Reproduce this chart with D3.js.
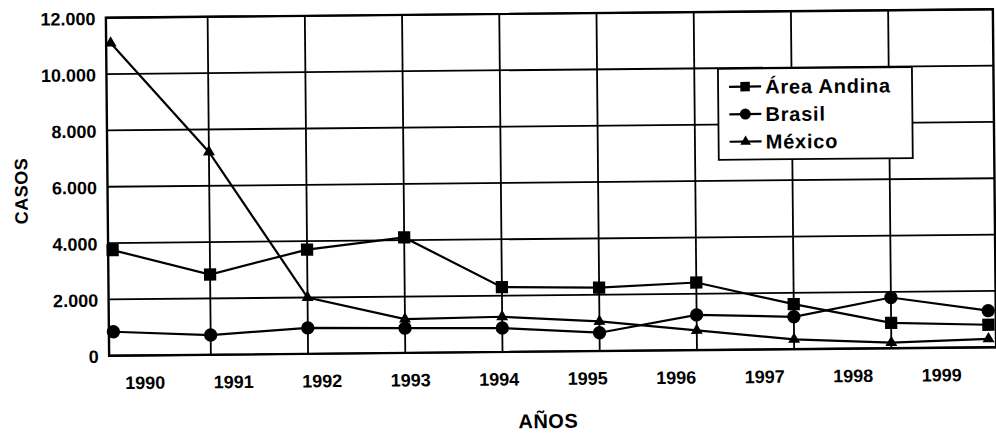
<!DOCTYPE html>
<html>
<head>
<meta charset="utf-8">
<script src="https://cdn.jsdelivr.net/npm/d3@7"></script>
<style>
  body { margin: 0; background: #fff; }
  svg { display: block; }
  text { font-family: "Liberation Sans", Arial, sans-serif; font-weight: bold; fill: #000; }
</style>
</head>
<body>
<div id="chart"></div>
<script>
// chart data
const years = [1990, 1991, 1992, 1993, 1994, 1995, 1996, 1997, 1998, 1999]
const andina = [3750, 2850, 3700, 4100, 2300, 2250, 2400, 1600, 900, 800]
const brasil = [850, 700, 920, 880, 850, 650, 1250, 1150, 1800, 1300]
const mexico = [11100, 7200, 2000, 1200, 1250, 1050, 700, 350, 200, 300]
const seriesNames = ["Área Andina", "Brasil", "México"]
const yTicks = [0, 2000, 4000, 6000, 8000, 10000, 12000]

const width = 996
const height = 436
const margin = { top: 13.5, right: 1.5, bottom: 84.5, left: 107.5 }
const plotBottom = height - margin.bottom
const plotRight = width - margin.right

const series = [
  { name: seriesNames[0], values: andina, symbol: d3.symbolSquare, size: 150, legendSize: 90 },
  { name: seriesNames[1], values: brasil, symbol: d3.symbolCircle, size: 140, legendSize: 95 },
  { name: seriesNames[2], values: mexico, symbol: d3.symbolTriangle, size: 62, legendSize: 50 }
]

const locale = d3.formatLocale({ decimal: ",", thousands: ".", grouping: [3], currency: ["", ""] })
const fmt = locale.format(",d")

const svg = d3.select("#chart").append("svg")
  .attr("width", width)
  .attr("height", height)

// the source is a slightly tilted scan, so the whole figure is turned a hair
const g = svg.append("g")
  .attr("transform", "rotate(-0.55, 550, 183)")

const xPoint = d3.scalePoint(years, [112, 987])
const xLabel = d3.scaleBand(years, [99, 984])
const y = d3.scaleLinear([0, 12000], [plotBottom, margin.top])

// horizontal gridlines
g.append("g")
  .selectAll("line")
  .data(yTicks)
  .join("line")
  .attr("x1", margin.left)
  .attr("x2", plotRight)
  .attr("y1", d => y(d))
  .attr("y2", d => y(d))
  .attr("stroke", "#000")
  .attr("stroke-width", 1.8)

// vertical gridlines sit on the inner data points
g.append("g")
  .selectAll("line")
  .data(years.slice(1, -1))
  .join("line")
  .attr("x1", d => xPoint(d))
  .attr("x2", d => xPoint(d))
  .attr("y1", margin.top)
  .attr("y2", plotBottom)
  .attr("stroke", "#000")
  .attr("stroke-width", 1.8)

// plot frame
g.append("rect")
  .attr("x", margin.left)
  .attr("y", margin.top)
  .attr("width", plotRight - margin.left)
  .attr("height", plotBottom - margin.top)
  .attr("fill", "none")
  .attr("stroke", "#000")
  .attr("stroke-width", 2.4)

// y tick labels
g.append("g")
  .selectAll("text")
  .data(yTicks)
  .join("text")
  .attr("x", 97)
  .attr("y", d => y(d))
  .attr("dy", "0.4em")
  .attr("text-anchor", "end")
  .attr("font-size", 18)
  .text(d => fmt(d))

// x tick labels
g.append("g")
  .selectAll("text")
  .data(years)
  .join("text")
  .attr("x", d => xLabel(d) + xLabel.bandwidth() / 2)
  .attr("y", 385)
  .attr("text-anchor", "middle")
  .attr("font-size", 18)
  .text(d => d)

// axis titles
g.append("text")
  .attr("x", 546)
  .attr("y", 428)
  .attr("text-anchor", "middle")
  .attr("font-size", 20)
  .attr("letter-spacing", 0.5)
  .text("AÑOS")

g.append("text")
  .attr("transform", "translate(21, 186) rotate(-90)")
  .attr("text-anchor", "middle")
  .attr("dy", "0.36em")
  .attr("font-size", 18)
  .attr("letter-spacing", 0.5)
  .text("CASOS")

// lines and markers
const line = d3.line()
  .x((d, i) => xPoint(years[i]))
  .y(d => y(d))

series.forEach((s) => {
  g.append("path")
    .datum(s.values)
    .attr("d", line)
    .attr("fill", "none")
    .attr("stroke", "#000")
    .attr("stroke-width", 2.2)

  g.append("g")
    .selectAll("path")
    .data(s.values)
    .join("path")
    .attr("transform", (d, i) => `translate(${xPoint(years[i])},${y(d)})`)
    .attr("d", d3.symbol(s.symbol, s.size))
    .attr("fill", "#000")
})

// legend
const legendBox = { x: 719, y: 70.5, w: 194, h: 91 }
const legend = g.append("g")

legend.append("rect")
  .attr("x", legendBox.x)
  .attr("y", legendBox.y)
  .attr("width", legendBox.w)
  .attr("height", legendBox.h)
  .attr("fill", "#fff")
  .attr("stroke", "#000")
  .attr("stroke-width", 1.8)

const legendRow = d3.scalePoint(seriesNames, [legendBox.y + 18, legendBox.y + 73])

series.forEach((s) => {
  const ly = legendRow(s.name)
  legend.append("line")
    .attr("x1", legendBox.x + 11)
    .attr("x2", legendBox.x + 43)
    .attr("y1", ly)
    .attr("y2", ly)
    .attr("stroke", "#000")
    .attr("stroke-width", 2.2)
  legend.append("path")
    .attr("transform", `translate(${legendBox.x + 27},${ly})`)
    .attr("d", d3.symbol(s.symbol, s.legendSize))
    .attr("fill", "#000")
  legend.append("text")
    .attr("x", legendBox.x + 47)
    .attr("y", ly)
    .attr("dy", "0.36em")
    .attr("font-size", 20)
    .attr("letter-spacing", 0.8)
    .text(s.name)
})
</script>
</body>
</html>
